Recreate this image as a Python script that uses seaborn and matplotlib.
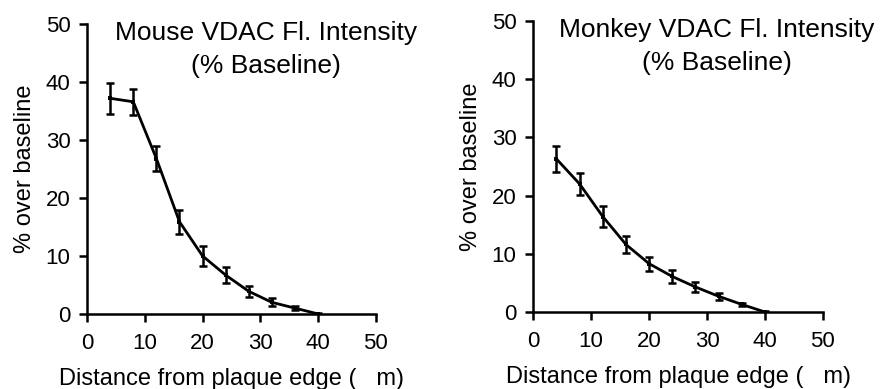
import numpy as np
import pandas as pd
import matplotlib
matplotlib.use("Agg")
import matplotlib.pyplot as plt
import seaborn as sns

# distances from plaque edge (um)
distance = [4, 8, 12, 16, 20, 24, 28, 32, 36, 40]

# mouse VDAC intensity, % over baseline, with error
mouse_mean = [37.2, 36.6, 26.8, 15.9, 10.0, 6.7, 3.9, 2.0, 1.0, 0.0]
mouse_err = [2.7, 2.2, 2.1, 2.1, 1.7, 1.4, 1.0, 0.7, 0.3, 0.2]

# monkey VDAC intensity, % over baseline, with error
monkey_mean = [26.3, 22.0, 16.4, 11.6, 8.3, 6.1, 4.3, 2.7, 1.3, 0.0]
monkey_err = [2.2, 1.9, 1.8, 1.5, 1.2, 1.05, 0.8, 0.6, 0.2, 0.1]

titles = ["Mouse VDAC Fl. Intensity\n(% Baseline)",
          "Monkey VDAC Fl. Intensity\n(% Baseline)"]

sns.set_style("ticks")
plt.rcParams['font.family'] = ['Liberation Sans', 'DejaVu Sans']
plt.rcParams['text.color'] = 'black'
plt.rcParams['axes.labelcolor'] = 'black'
plt.rcParams['xtick.color'] = 'black'
plt.rcParams['ytick.color'] = 'black'

fig = plt.figure(figsize=(8.8, 3.89), dpi=100)
ax1 = fig.add_axes([0.099, 0.193, 0.328, 0.745])
ax2 = fig.add_axes([0.606, 0.198, 0.329, 0.748])

panels = [(ax1, mouse_mean, mouse_err, titles[0], 0.62),
          (ax2, monkey_mean, monkey_err, titles[1], 0.635)]

for ax, mean, err, title, tx in panels:
    df = pd.DataFrame({"distance": distance, "value": mean})
    sns.lineplot(data=df, x="distance", y="value", ax=ax, color="black",
                 linewidth=2.0, marker="s", markersize=3.5, markeredgewidth=0)
    ax.errorbar(distance, mean, yerr=err, fmt="none", ecolor="black",
                elinewidth=1.8, capsize=3.2, capthick=1.8)
    ax.set_xlim(0, 50)
    ax.set_ylim(0, 50)
    ax.set_xticks([0, 10, 20, 30, 40, 50])
    ax.set_yticks([0, 10, 20, 30, 40, 50])
    ax.tick_params(axis="both", labelsize=16, length=6, width=1.8,
                   direction="out", pad=6, colors="black")
    ax.tick_params(axis="x", pad=8)
    for s in ["left", "bottom"]:
        ax.spines[s].set_linewidth(1.8)
        ax.spines[s].set_color("black")
    sns.despine(ax=ax)
    ax.set_xlabel("Distance from plaque edge (   m)", fontsize=17, labelpad=10)
    ax.set_ylabel("% over baseline", fontsize=17, labelpad=7)
    ax.text(tx, 1.01, title, transform=ax.transAxes, ha="center", va="top",
            fontsize=19, linespacing=1.45)

plt.savefig("out.png", dpi=100)
